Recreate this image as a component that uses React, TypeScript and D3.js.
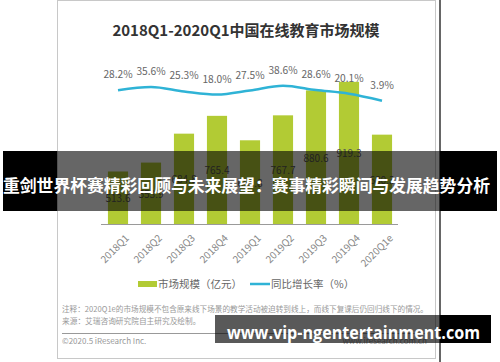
import React from "react";
import * as d3 from "d3";

const categories = ["2018Q1", "2018Q2", "2018Q3", "2018Q4", "2019Q1", "2019Q2", "2019Q3", "2019Q4", "2020Q1e"];
const marketSize = [513.6, 553.9, 684.8, 765.4, 654.8, 767.7, 880.6, 919.3, 680.3];
const growthRate = [28.2, 35.6, 25.3, 18.0, 27.5, 38.6, 28.6, 20.1, 3.9];
const titleText = "2018Q1-2020Q1中国在线教育市场规模";
const legendBar = "市场规模（亿元）";
const legendLine = "同比增长率（%）";
const noteText = "注释：2020Q1e的市场规模不包含原来线下场景的教学活动被迫转到线上，而线下复课后仍回归线下的情况。";
const sourceText = "来源：艾瑞咨询研究院自主研究及绘制。";
const copyrightText = "©2020.5 iResearch Inc.";
const siteText = "www.iresearch.com.cn";
const bannerText = "重剑世界杯赛精彩回顾与未来展望：赛事精彩瞬间与发展趋势分析";
const watermarkText = "www.vip-ngentertainment.com";

const FONT = "'Noto Sans CJK SC', 'Noto Sans', sans-serif";
const GREEN = "#b2cb34";
const BLUE = "#2fb3d6";

export default function App() {
  const W = 500, H = 362;
  const x = d3.scaleBand<string>().domain(categories).range([101.5, 398.5]).paddingInner(0.39).paddingOuter(0.195);
  const y = d3.scaleLinear().domain([276, 1000]).range([224, 64]);
  const yr = d3.scaleLinear().domain([0, 40]).range([102.4, 85.1]);
  const cx = (c: string) => (x(c) as number) + x.bandwidth() / 2;

  const linePath = d3
    .line<number>()
    .x((_, i) => cx(categories[i]))
    .y((d) => yr(d))
    .curve(d3.curveMonotoneX)(growthRate) as string;

  return (
    <svg width={W} height={H} style={{ position: "absolute", left: 0, top: 0, display: "block" }} fontFamily={FONT}>
      <rect x={0} y={0} width={W} height={H} fill="#fff" />
      {/* chart frame */}
      <rect x={57.5} y={0.5} width={378} height={358} fill="#fff" stroke="#c8c8c8" strokeWidth={1} />
      <line x1={440} x2={440} y1={0} y2={H} stroke="#333" strokeWidth={1.5} />

      <text x={246} y={36} textAnchor="middle" fontSize={15} fontWeight="bold" fill="#333">
        {titleText}
      </text>

      {/* bars */}
      {categories.map((c, i) => (
        <rect key={c} x={x(c)} y={y(marketSize[i])} width={x.bandwidth()} height={224 - y(marketSize[i])} fill={GREEN} />
      ))}
      {categories.map((c, i) => (
        <text key={"v" + c} x={cx(c)} y={(y(marketSize[i]) + 224) / 2} textAnchor="middle" dominantBaseline="central" fontSize={10} fill="#555">
          {marketSize[i].toFixed(1)}
        </text>
      ))}
      {/* axis */}
      <line x1={101} x2={398} y1={224.5} y2={224.5} stroke="#9a9a9a" strokeWidth={1} />
      {categories.map((c) => (
        <text key={"t" + c} transform={`translate(${cx(c) + 5},232) rotate(-45)`} textAnchor="end" dominantBaseline="hanging" fontSize={10} fill="#888">
          {c}
        </text>
      ))}

      {/* line */}
      <path d={linePath} fill="none" stroke={BLUE} strokeWidth={2.5} />
      {categories.map((c, i) => (
        <text key={"p" + c} x={cx(c)} y={yr(growthRate[i]) - 12} textAnchor="middle" fontSize={10.2} fill="#666">
          {growthRate[i].toFixed(1)}%
        </text>
      ))}

      {/* legend */}
      <rect x={138} y={281} width={19} height={6} fill={GREEN} />
      <text x={158} y={288} fontSize={10.5} fill="#666">{legendBar}</text>
      <line x1={250} x2={270} y1={284} y2={284} stroke={BLUE} strokeWidth={2.5} />
      <text x={271} y={288} fontSize={10.5} fill="#666">{legendLine}</text>

      {/* notes */}
      <text x={62} y={312} fontSize={7.7} fill="#999" textLength={366} lengthAdjust="spacingAndGlyphs">{noteText}</text>
      <text x={62} y={324} fontSize={7.7} fill="#999">{sourceText}</text>
      <line x1={62} x2={428} y1={333.5} y2={333.5} stroke="#999" strokeWidth={1} />
      <text x={62} y={344} fontSize={8} fill="#999">{copyrightText}</text>
      <text x={427} y={344} textAnchor="end" fontSize={8} fill="#999">{siteText}</text>

      {/* banner overlay */}
      <rect x={3} y={151} width={54} height={60} fill="#000" />
      <rect x={57} y={151} width={383} height={60} fill="rgba(0,0,0,0.6)" />
      <rect x={440} y={151} width={57} height={60} fill="#000" />
      <text x={3} y={184} dominantBaseline="central" fontSize={17} fontWeight="bold" fill="#fff" textLength={487} lengthAdjust="spacingAndGlyphs">
        {bannerText}
      </text>

      {/* watermark */}
      <rect x={215} y={315} width={225} height={28} fill="rgba(0,0,0,0.65)" />
      <rect x={440} y={315} width={51} height={28} fill="#000" />
      <text x={227} y={339} fontSize={18} fontWeight="bold" fill="#fff" textLength={253} lengthAdjust="spacingAndGlyphs" fontFamily="'Open Sans', 'Noto Sans', sans-serif">
        {watermarkText}
      </text>
    </svg>
  );
}
